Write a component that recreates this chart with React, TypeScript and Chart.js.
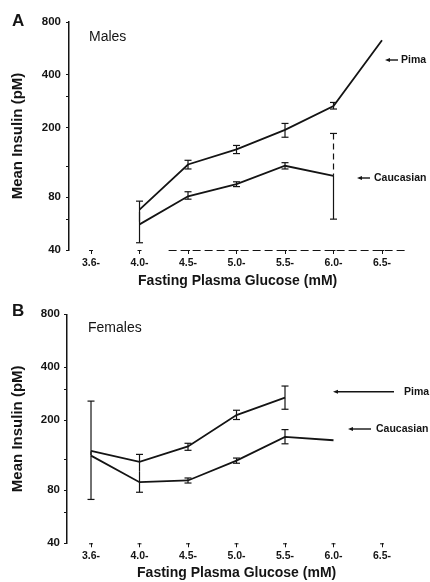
import React, { useEffect, useRef } from 'react';
import { Chart, registerables } from 'chart.js';

Chart.register(...registerables);

const FONT = '"Liberation Sans", Arial, Helvetica, sans-serif';
const INK = '#141414';

// ---------- data ----------
const glucoseLabels = ['3.6-', '4.0-', '4.5-', '5.0-', '5.5-', '6.0-', '6.5-'];
const insulinMajorTicks = [40, 80, 200, 400, 800];
const insulinMinorTicks = [60, 120, 300];

const malesPima = [null, 68, 123, 150, 194, 265, 630];
const malesPimaLow = [null, 58, 116, 142, 176, 255, null];
const malesPimaHigh = [null, 76, 130, 158, 211, 278, null];
const malesCaucasian = [null, 56, 81, 95, 121, 106, null];
const malesCaucasianLow = [null, 44, 78, 92, 116, 60, null];
const malesCaucasianHigh = [null, 66, 86, 98, 126, 185, null];

const femalesPima = [134, 116, 142, 214, 269, null, null];
const femalesPimaLow = [127, 102, 135, 202, 231, null, null];
const femalesPimaHigh = [257, 128, 148, 228, 313, null, null];
const femalesCaucasian = [126, 89, 91, 118, 161, 154, null];
const femalesCaucasianLow = [71, 78, 88, 114, 147, null, null];
const femalesCaucasianHigh = [133, 102, 94, 122, 177, null, null];

type Num = number | null;
type Note = { text: string; x: number; y: number; from: number; to: number };
interface Panel {
  letter: string;
  sub: string;
  subX: number;
  subY: number;
  canvasH: number;
  yWidth: number;
  yPad: number;
  xMin: number;
  padTop: number;
  xHeight: number;
  pima: Num[];
  pimaLow: Num[];
  pimaHigh: Num[];
  cauc: Num[];
  caucLow: Num[];
  caucHigh: Num[];
  dashedAxis: boolean;
  dashedErrIndex: number | null;
  hiddenCaps: [number, number][]; // [series, index] whose inner caps are hidden
  notes: Note[];
}

const panelA: Panel = {
  letter: 'A',
  sub: 'Males',
  subX: 89,
  subY: 37,
  canvasH: 290,
  yWidth: 69,
  yPad: 5,
  xMin: -0.454,
  padTop: 22,
  xHeight: 40,
  pima: malesPima,
  pimaLow: malesPimaLow,
  pimaHigh: malesPimaHigh,
  cauc: malesCaucasian,
  caucLow: malesCaucasianLow,
  caucHigh: malesCaucasianHigh,
  dashedAxis: true,
  dashedErrIndex: 5,
  hiddenCaps: [[0, 1], [1, 1]],
  notes: [
    { text: 'Pima', x: 401, y: 60, from: 385, to: 398 },
    { text: 'Caucasian', x: 374, y: 178, from: 357, to: 370 },
  ],
};

const panelB: Panel = {
  letter: 'B',
  sub: 'Females',
  subX: 88,
  subY: 38,
  canvasH: 292,
  yWidth: 67,
  yPad: 4,
  xMin: -0.495,
  padTop: 24.3,
  xHeight: 38.7,
  pima: femalesPima,
  pimaLow: femalesPimaLow,
  pimaHigh: femalesPimaHigh,
  cauc: femalesCaucasian,
  caucLow: femalesCaucasianLow,
  caucHigh: femalesCaucasianHigh,
  dashedAxis: false,
  dashedErrIndex: null,
  hiddenCaps: [[0, 0], [1, 0], [0, 1], [1, 1]],
  notes: [
    { text: 'Pima', x: 404, y: 101.7, from: 333, to: 394 },
    { text: 'Caucasian', x: 376, y: 139, from: 348, to: 371 },
  ],
};

const toPoints = (arr: Num[]) =>
  arr.map((v, i) => ({ x: i, y: v })).filter((p) => p.y != null);

function makeOverlay(p: Panel) {
  return {
    id: 'overlay' + p.letter,
    afterDatasetsDraw(chart: any) {
      const ctx: CanvasRenderingContext2D = chart.ctx;
      const xs = chart.scales.x;
      const ys = chart.scales.y;
      const area = chart.chartArea;
      const line = (x1: number, y1: number, x2: number, y2: number) => {
        ctx.beginPath();
        ctx.moveTo(x1, y1);
        ctx.lineTo(x2, y2);
        ctx.stroke();
      };
      ctx.save();
      ctx.strokeStyle = INK;
      ctx.fillStyle = INK;

      // error bars
      const series: [Num[], Num[], Num[], number][] = [
        [p.pima, p.pimaLow, p.pimaHigh, 0],
        [p.cauc, p.caucLow, p.caucHigh, 1],
      ];
      series.forEach(([mid, lo, hi, si]) => {
        lo.forEach((l, i) => {
          const h = hi[i];
          if (l == null || h == null) return;
          const x = xs.getPixelForValue(i);
          const yl = ys.getPixelForValue(l);
          const yh = ys.getPixelForValue(h);
          ctx.lineWidth = 1.2;
          if (si === 1 && p.dashedErrIndex === i && mid[i] != null) {
            const ym = ys.getPixelForValue(mid[i] as number);
            ctx.setLineDash([6, 4]);
            line(x, yh, x, ym);
            ctx.setLineDash([]);
            line(x, ym, x, yl);
          } else {
            line(x, yh, x, yl);
          }
          const hidden = p.hiddenCaps.some(([s, k]) => s === si && k === i);
          // Pima (upper series) inner cap = low; Caucasian inner cap = high
          if (!(hidden && si === 1)) line(x - 3.5, yh, x + 3.5, yh);
          if (!(hidden && si === 0)) line(x - 3.5, yl, x + 3.5, yl);
        });
      });

      // x tick caps
      ctx.lineWidth = 1;
      glucoseLabels.forEach((_, i) => {
        const x = xs.getPixelForValue(i);
        line(x - 2, area.bottom + 0.5, x + 2, area.bottom + 0.5);
      });

      // dashed x-axis segment
      if (p.dashedAxis) {
        ctx.setLineDash([8, 4]);
        ctx.lineWidth = 1;
        line(xs.getPixelForValue(1.6), area.bottom + 0.5, area.right, area.bottom + 0.5);
        ctx.setLineDash([]);
      }

      // panel letter and subtitle
      ctx.textBaseline = 'middle';
      ctx.textAlign = 'left';
      ctx.font = `bold 17px ${FONT}`;
      ctx.fillText(p.letter, 12, 21);
      ctx.font = `14px ${FONT}`;
      ctx.fillText(p.sub, p.subX, p.subY);

      // series notes with arrows
      ctx.font = `bold 10.5px ${FONT}`;
      p.notes.forEach((n) => {
        ctx.lineWidth = 1.4;
        line(n.from + 3, n.y, n.to, n.y);
        ctx.beginPath();
        ctx.moveTo(n.from, n.y);
        ctx.lineTo(n.from + 5, n.y - 2);
        ctx.lineTo(n.from + 5, n.y + 2);
        ctx.closePath();
        ctx.fill();
        ctx.fillText(n.text, n.x, n.y);
      });
      ctx.restore();
    },
  };
}

function PanelChart({ panel, top }: { panel: Panel; top: number }) {
  const ref = useRef<HTMLCanvasElement | null>(null);
  useEffect(() => {
    if (!ref.current) return;
    const p = panel;
    const lineStyle = {
      borderColor: INK,
      borderWidth: 1.8,
      pointRadius: 0,
      tension: 0,
      fill: false,
    };
    const chart = new Chart(ref.current, {
      type: 'line',
      data: {
        datasets: [
          { label: 'Pima', data: toPoints(p.pima), ...lineStyle },
          { label: 'Caucasian', data: toPoints(p.cauc), ...lineStyle },
        ],
      },
      options: {
        animation: false,
        responsive: false,
        devicePixelRatio: 1,
        events: [],
        layout: { padding: { top: p.padTop, right: 23.75, left: 0, bottom: 0 } },
        plugins: { legend: { display: false }, tooltip: { enabled: false } },
        scales: {
          x: {
            type: 'linear',
            min: p.xMin,
            max: 6.5,
            afterBuildTicks: (s: any) => {
              s.ticks = glucoseLabels.map((_, i) => ({ value: i }));
            },
            afterFit: (s: any) => {
              s.height = p.xHeight;
            },
            ticks: {
              callback: (v: any) => glucoseLabels[v] ?? '',
              font: { family: FONT, size: 10.5, weight: 'bold' },
              color: INK,
              padding: 3,
              maxRotation: 0,
              autoSkip: false,
            },
            grid: { display: true, drawOnChartArea: false, tickLength: 4, color: INK, lineWidth: 1 },
            border: { display: false },
            title: {
              display: true,
              text: 'Fasting Plasma Glucose (mM)',
              font: { family: FONT, size: 14, weight: 'bold' },
              color: INK,
              padding: { top: 0, bottom: 0 },
            },
          },
          y: {
            type: 'logarithmic',
            min: 40,
            max: 800,
            afterBuildTicks: (s: any) => {
              s.ticks = [...insulinMajorTicks, ...insulinMinorTicks]
                .sort((a, b) => a - b)
                .map((v) => ({ value: v }));
            },
            afterFit: (s: any) => {
              s.width = p.yWidth;
            },
            ticks: {
              callback: (v: any) => (insulinMajorTicks.includes(Number(v)) ? String(v) : ''),
              font: { family: FONT, size: 11.5, weight: 'bold' },
              color: INK,
              padding: p.yPad,
              autoSkip: false,
            },
            grid: { display: true, drawOnChartArea: false, tickLength: 3, color: INK, lineWidth: 1 },
            border: { display: true, color: INK, width: 1.5 },
            title: {
              display: true,
              text: 'Mean Insulin (pM)',
              font: { family: FONT, size: 15, weight: 'bold' },
              color: INK,
              padding: { top: 9, bottom: 0 },
            },
          },
        },
      },
      plugins: [makeOverlay(p)],
    } as any);
    return () => chart.destroy();
  }, [panel]);
  return (
    <canvas
      ref={ref}
      width={430}
      height={panel.canvasH}
      style={{ position: 'absolute', left: 0, top, display: 'block' }}
    />
  );
}

export default function App() {
  return (
    <div
      style={{
        position: 'absolute',
        left: 0,
        top: 0,
        width: 430,
        height: 582,
        background: '#fff',
        overflow: 'hidden',
      }}
    >
      <PanelChart panel={panelA} top={0} />
      <PanelChart panel={panelB} top={290} />
    </div>
  );
}
